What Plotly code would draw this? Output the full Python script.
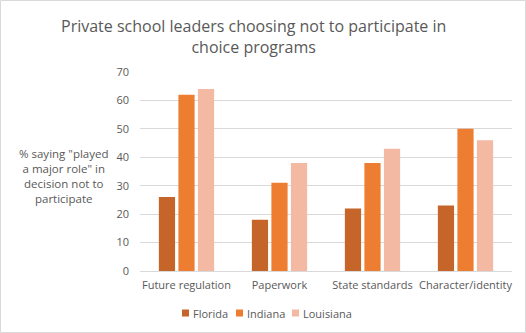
import plotly.graph_objects as go

categories = ["Future regulation", "Paperwork", "State standards", "Character/identity"]
florida = [26, 18, 22, 23]
indiana = [62, 31, 38, 50]
louisiana = [64, 38, 43, 46]
y_ticks = [0, 10, 20, 30, 40, 50, 60, 70]

series = [
    ("Florida", florida, "#C5652A"),
    ("Indiana", indiana, "#ED7D31"),
    ("Louisiana", louisiana, "#F3B9A3"),
]

W, H = 526, 333
L, R, T, B = 140, 14, 72, 62
pw, ph = W - L - R, H - T - B

FONT = "Open Sans"
GREY = "#595959"


def px_x(px):
    return (px - L) / pw


def px_y(py):
    return (T + ph - py) / ph


fig = go.Figure()
for name, vals, color in series:
    fig.add_trace(go.Bar(
        x=categories, y=vals, name=name,
        marker=dict(color=color, line=dict(width=0)),
    ))

fig.update_layout(
    width=W, height=H,
    margin=dict(l=L, r=R, t=T, b=B, autoexpand=False),
    paper_bgcolor="white", plot_bgcolor="white",
    barmode="group", bargap=0.37, bargroupgap=0.17,
    font=dict(family=FONT, color=GREY, size=11),
    showlegend=False,
    xaxis=dict(
        showgrid=False, showline=True, linecolor="#D9D9D9", linewidth=1,
        ticks="", tickfont=dict(size=11, color=GREY), ticklabelstandoff=4,
    ),
    yaxis=dict(
        range=[0, 70], tickvals=y_ticks, showgrid=True, gridcolor="#D9D9D9",
        gridwidth=1, zeroline=False, showline=False, ticks="",
        tickfont=dict(size=11, color=GREY), ticklabelstandoff=10,
    ),
)

# Chart title
fig.add_annotation(
    text="Private school leaders choosing not to participate in<br>choice programs",
    xref="paper", yref="paper", x=px_x(253), y=px_y(36),
    xanchor="center", yanchor="middle", showarrow=False,
    font=dict(size=16, color=GREY, family=FONT),
)

# Y axis title
fig.add_annotation(
    text="% saying \"played<br>a major role\" in<br>decision not to<br>participate",
    xref="paper", yref="paper", x=px_x(63), y=px_y(176),
    xanchor="center", yanchor="middle", showarrow=False, align="center",
    font=dict(size=11.5, color=GREY, family=FONT),
)

# Compact legend row below the axis: small square swatch + label
legend_x = [182, 236, 292]
legend_y = 313
for (name, _, color), lx in zip(series, legend_x):
    fig.add_shape(
        type="rect", xref="paper", yref="paper",
        x0=px_x(lx), x1=px_x(lx + 7), y0=px_y(legend_y + 3.5), y1=px_y(legend_y - 3.5),
        line=dict(width=0), fillcolor=color,
    )
    fig.add_annotation(
        text=name, xref="paper", yref="paper", x=px_x(lx + 9), y=px_y(legend_y),
        xanchor="left", yanchor="middle", showarrow=False,
        font=dict(size=11, color=GREY, family=FONT),
    )

# Outer chart border
fig.add_shape(
    type="rect", xref="paper", yref="paper",
    x0=px_x(0.5), x1=px_x(W - 0.5), y0=px_y(H - 0.5), y1=px_y(0.5),
    line=dict(color="#D9D9D9", width=1), fillcolor="rgba(0,0,0,0)", layer="below",
)

fig.write_html("out.html")
